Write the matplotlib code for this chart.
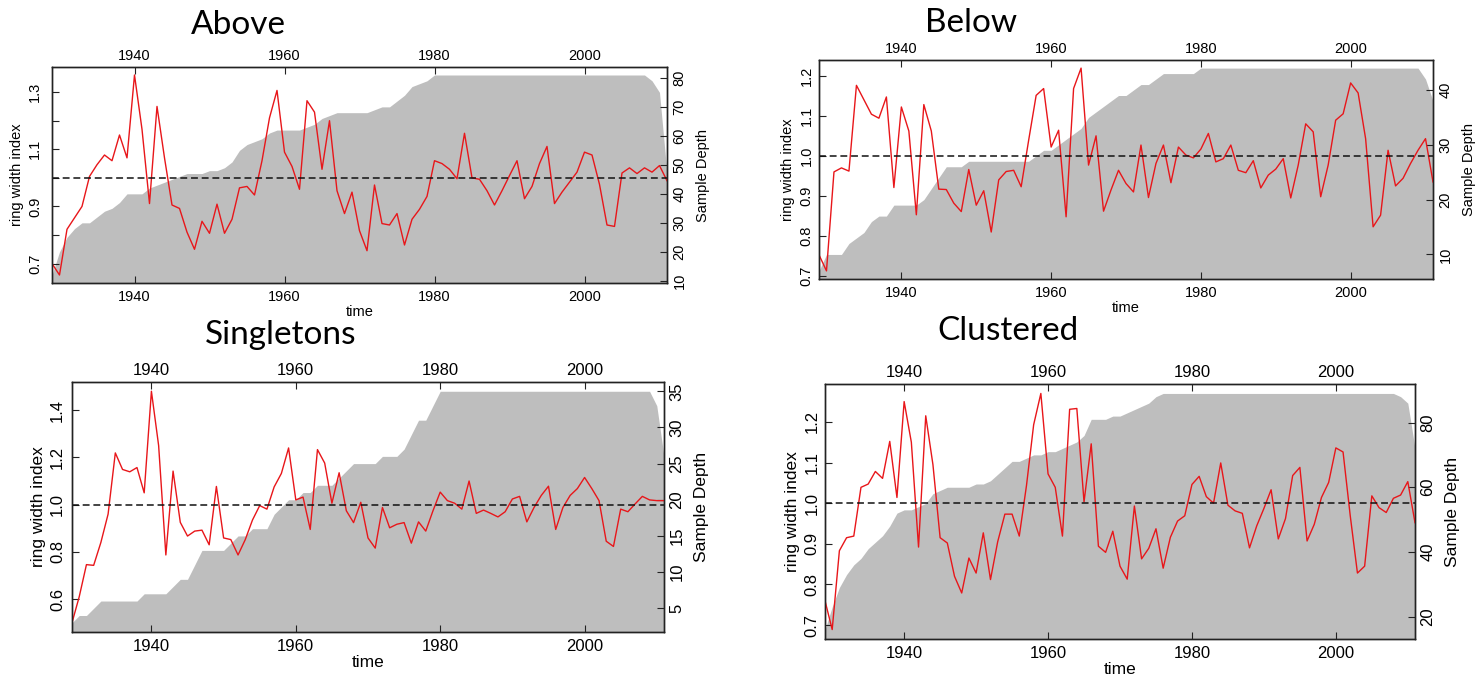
import matplotlib

matplotlib.use("Agg")
import matplotlib.pyplot as plt

# ring width chronologies, one value per year 1929-2011
YEARS = list(range(1929, 2012))

ABOVE_INDEX = [
    0.70, 0.66, 0.82, 0.86, 0.90, 1.005, 1.046, 1.08, 1.06, 1.15,
    1.07, 1.36, 1.17, 0.91, 1.25, 1.07, 0.905, 0.893, 0.81, 0.75,
    0.848, 0.806, 0.908, 0.806, 0.855, 0.965, 0.97, 0.94, 1.06, 1.21,
    1.306, 1.09, 1.04, 0.96, 1.27, 1.23, 1.03, 1.20, 0.955, 0.875,
    0.95, 0.815, 0.745, 0.975, 0.84, 0.835, 0.875, 0.765, 0.855, 0.89,
    0.935, 1.06, 1.05, 1.03, 0.997, 1.156, 1.0, 0.995, 0.955, 0.905,
    0.955, 1.008, 1.06, 0.927, 0.97, 1.05, 1.11, 0.91, 0.95, 0.985,
    1.02, 1.09, 1.08, 0.977, 0.835, 0.83, 1.017, 1.035, 1.015, 1.035,
    1.02, 1.043, 0.99,
]
ABOVE_DEPTH = [
    12, 20, 25, 28, 30, 30, 32, 34, 35, 37,
    40, 40, 40, 42, 43, 44, 45, 46, 47, 47,
    47, 48, 48, 49, 51, 55, 57, 58, 59, 61,
    62, 62, 62, 62, 63, 64, 66, 67, 68, 68,
    68, 68, 68, 69, 70, 70, 72, 74, 77, 78,
    79, 81, 81, 81, 81, 81, 81, 81, 81, 81,
    81, 81, 81, 81, 81, 81, 81, 81, 81, 81,
    81, 81, 81, 81, 81, 81, 81, 81, 81, 81,
    79, 75, 47,
]

BELOW_INDEX = [
    0.753, 0.713, 0.96, 0.97, 0.962, 1.176, 1.14, 1.104, 1.094, 1.147,
    0.921, 1.122, 1.062, 0.853, 1.128, 1.062, 0.917, 0.916, 0.882, 0.861,
    0.966, 0.877, 0.913, 0.81, 0.94, 0.961, 0.964, 0.923, 1.039, 1.151,
    1.168, 1.022, 1.064, 0.848, 1.168, 1.219, 0.977, 1.05, 0.862, 0.915,
    0.964, 0.931, 0.91, 1.027, 0.896, 0.981, 1.027, 0.933, 1.022, 1.002,
    0.995, 1.017, 1.056, 0.985, 0.993, 1.027, 0.964, 0.958, 0.988, 0.92,
    0.952, 0.967, 0.993, 0.895, 0.977, 1.08, 1.06, 0.898, 0.977, 1.089,
    1.105, 1.182, 1.157, 1.043, 0.823, 0.852, 1.014, 0.925, 0.944, 0.981,
    1.014, 1.043, 0.935,
]
BELOW_DEPTH = [
    7, 10, 10, 10, 12, 13, 14, 16, 17, 17,
    19, 19, 19, 19, 20, 22, 24, 26, 26, 26,
    27, 27, 27, 27, 27, 27, 27, 27, 27, 28,
    29, 29, 30, 31, 32, 33, 35, 36, 37, 38,
    39, 39, 40, 41, 41, 42, 43, 43, 43, 43,
    43, 44, 44, 44, 44, 44, 44, 44, 44, 44,
    44, 44, 44, 44, 44, 44, 44, 44, 44, 44,
    44, 44, 44, 44, 44, 44, 44, 44, 44, 44,
    44, 42, 38,
]

SINGLE_INDEX = [
    0.50, 0.61, 0.746, 0.743, 0.84, 0.96, 1.219, 1.149, 1.139, 1.157,
    1.05, 1.48, 1.25, 0.787, 1.142, 0.925, 0.867, 0.888, 0.892, 0.83,
    1.077, 0.859, 0.852, 0.787, 0.852, 0.935, 0.996, 0.981, 1.075, 1.132,
    1.24, 1.02, 1.032, 0.895, 1.233, 1.176, 1.006, 1.135, 0.974, 0.924,
    1.01, 0.859, 0.816, 0.988, 0.902, 0.917, 0.924, 0.837, 0.927, 0.888,
    0.974, 1.053, 1.017, 1.006, 0.981, 1.1, 0.963, 0.977, 0.963, 0.948,
    0.97, 1.024, 1.035, 0.927, 0.988, 1.039, 1.078, 0.895, 0.988, 1.039,
    1.068, 1.115, 1.068, 1.017, 0.845, 0.823, 0.981, 0.97, 1.003, 1.035,
    1.02, 1.017, 1.017,
]
SINGLE_DEPTH = [
    3, 4, 4, 5, 6, 6, 6, 6, 6, 6,
    7, 7, 7, 7, 8, 9, 9, 11, 13, 13,
    13, 13, 14, 15, 15, 16, 16, 16, 18, 19,
    20, 20, 21, 21, 22, 22, 22, 23, 24, 25,
    25, 25, 25, 26, 26, 26, 27, 29, 31, 31,
    33, 35, 35, 35, 35, 35, 35, 35, 35, 35,
    35, 35, 35, 35, 35, 35, 35, 35, 35, 35,
    35, 35, 35, 35, 35, 35, 35, 35, 35, 35,
    35, 33, 26,
]

CLUSTER_INDEX = [
    0.76, 0.689, 0.883, 0.915, 0.919, 1.039, 1.047, 1.078, 1.061, 1.152,
    1.014, 1.25, 1.15, 0.892, 1.215, 1.095, 0.915, 0.902, 0.82, 0.779,
    0.865, 0.828, 0.927, 0.812, 0.905, 0.973, 0.973, 0.919, 1.043, 1.193,
    1.27, 1.072, 1.039, 0.919, 1.231, 1.233, 1.003, 1.146, 0.894, 0.879,
    0.931, 0.845, 0.813, 0.993, 0.863, 0.889, 0.937, 0.84, 0.916, 0.956,
    0.969, 1.046, 1.066, 1.016, 1.0, 1.099, 0.995, 0.981, 0.975, 0.89,
    0.944, 0.987, 1.033, 0.912, 0.962, 1.068, 1.088, 0.907, 0.948, 1.014,
    1.051, 1.136, 1.126, 0.969, 0.828, 0.845, 1.018, 0.989, 0.977, 1.012,
    1.02, 1.053, 0.952,
]
CLUSTER_DEPTH = [
    16, 23, 29, 33, 36, 38, 41, 43, 45, 48,
    52, 53, 53, 54, 55, 58, 59, 60, 60, 60,
    60, 61, 61, 62, 64, 66, 68, 68, 69, 70,
    70, 71, 71, 72, 73, 74, 76, 81, 81, 81,
    82, 82, 83, 84, 85, 86, 88, 89, 89, 89,
    89, 89, 89, 89, 89, 89, 89, 89, 89, 89,
    89, 89, 89, 89, 89, 89, 89, 89, 89, 89,
    89, 89, 89, 89, 89, 89, 89, 89, 89, 89,
    88, 86, 72,
]

YEAR_TICKS = [1940, 1960, 1980, 2000]

FIG_W, FIG_H = 1484, 684
TICK_FONT = ["Liberation Sans", "DejaVu Sans"]
TITLE_FONT = ["Lato", "DejaVu Sans"]


def px_rect(x0, y0, x1, y1):
    return [x0 / FIG_W, 1 - y1 / FIG_H, (x1 - x0) / FIG_W, (y1 - y0) / FIG_H]


def r_limits(values):
    lo, hi = min(values), max(values)
    pad = 0.04 * (hi - lo)
    return lo - pad, hi + pad


def draw_panel(fig, box, title, title_xy, index, depth, idx_ticks, idx_labels,
               depth_ticks, fs, lab_fs, ypad):
    ax = fig.add_axes(px_rect(*box))
    ax2 = ax.twinx()
    ax.set_zorder(ax2.get_zorder() + 1)
    ax.patch.set_visible(False)

    d_lo, d_hi = r_limits(depth)
    ax2.fill_between(YEARS, depth, d_lo, color="#bebebe", lw=0)
    ax2.set_ylim(d_lo, d_hi)

    ax.plot(YEARS, index, color="#e8161a", lw=1.0)
    ax.axhline(1.0, color="#111111", lw=1.1, dashes=(4.5, 2.5))
    ax.set_ylim(*r_limits(index))
    ax.set_xlim(YEARS[0], YEARS[-1])

    ax.set_xticks(YEAR_TICKS)
    ax.set_xticklabels([str(y) for y in YEAR_TICKS], fontsize=fs, family=TICK_FONT)
    ax.tick_params(axis="x", direction="in", length=5, pad=5, color="#222222")
    top = ax.secondary_xaxis("top")
    top.set_xticks(YEAR_TICKS)
    top.set_xticklabels([str(y) for y in YEAR_TICKS], fontsize=fs, family=TICK_FONT)
    top.tick_params(axis="x", direction="in", length=5, pad=3, color="#222222")
    top.spines["top"].set_visible(False)

    ax.set_yticks(idx_ticks)
    ax.set_yticklabels(idx_labels, fontsize=fs, family=TICK_FONT, rotation=90, va="center")
    ax.tick_params(axis="y", direction="in", length=5, pad=ypad, color="#222222")

    ax2.set_yticks(depth_ticks)
    ax2.set_yticklabels([str(t) for t in depth_ticks], fontsize=fs, family=TICK_FONT,
                        rotation=90, va="center")
    ax2.tick_params(axis="y", direction="in", length=5, pad=4, color="#222222")

    for a in (ax, ax2):
        for sp in a.spines.values():
            sp.set_color("#222222")
            sp.set_linewidth(1.0)

    ax.set_xlabel("time", fontsize=lab_fs, family=TICK_FONT, labelpad=1)
    ax.set_ylabel("ring width index", fontsize=lab_fs, family=TICK_FONT, labelpad=3)
    ax2.set_ylabel("Sample Depth", fontsize=lab_fs, family=TICK_FONT, labelpad=7)

    fig.text(title_xy[0] / FIG_W, 1 - title_xy[1] / FIG_H, title, fontsize=24,
             family=TITLE_FONT, color="black", ha="center", va="center")


def main():
    fig = plt.figure(figsize=(FIG_W / 100, FIG_H / 100), dpi=100)

    draw_panel(fig, (52, 67, 667, 283), "Above", (238, 25), ABOVE_INDEX, ABOVE_DEPTH,
               [0.7, 0.8, 0.9, 1.0, 1.1, 1.2, 1.3], ["0.7", "", "0.9", "", "1.1", "", "1.3"],
               [10, 20, 30, 40, 50, 60, 70, 80], 10.5, 10.5, 7)
    draw_panel(fig, (819, 60, 1433, 279), "Below", (971, 23), BELOW_INDEX, BELOW_DEPTH,
               [0.7, 0.8, 0.9, 1.0, 1.1, 1.2], ["0.7", "0.8", "0.9", "1.0", "1.1", "1.2"],
               [10, 20, 30, 40], 10.5, 10.5, 4)
    draw_panel(fig, (72, 382, 664, 632), "Singletons", (281, 335), SINGLE_INDEX, SINGLE_DEPTH,
               [0.6, 0.8, 1.0, 1.2, 1.4], ["0.6", "0.8", "1.0", "1.2", "1.4"],
               [5, 10, 15, 20, 25, 30, 35], 12, 12.5, 5)
    draw_panel(fig, (825, 384, 1415, 639), "Clustered", (1008, 331), CLUSTER_INDEX, CLUSTER_DEPTH,
               [0.7, 0.8, 0.9, 1.0, 1.1, 1.2], ["0.7", "0.8", "0.9", "1.0", "1.1", "1.2"],
               [20, 40, 60, 80], 12, 12.5, 4)

    fig.savefig("out.png", dpi=100)
    plt.close(fig)


if __name__ == "__main__":
    main()
